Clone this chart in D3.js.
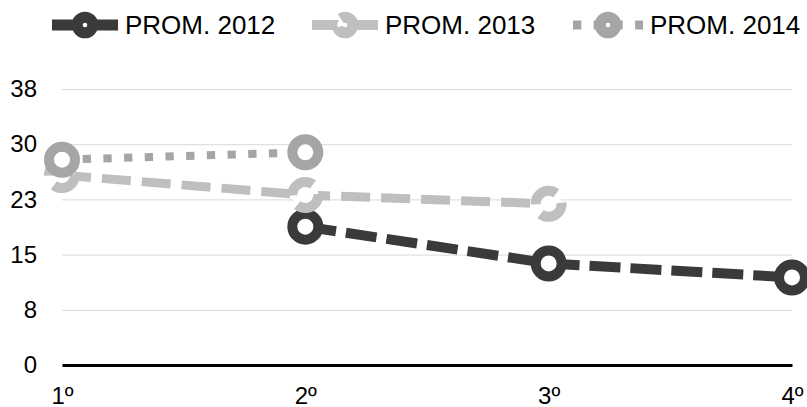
<!DOCTYPE html>
<html lang="es">
<head>
<meta charset="UTF-8">
<title>PROM. 2012-2014</title>
<script src="https://d3js.org/d3.v7.min.js"></script>
<style>
  body { margin: 0; background: #fff; }
  text { font-family: "Liberation Sans", Arial, sans-serif; fill: #000; }
</style>
</head>
<body>
<svg></svg>
<script>
const categories = ['1º', '2º', '3º', '4º'];
const seriesNames = ['PROM. 2012', 'PROM. 2013', 'PROM. 2014'];
const prom2012 = [null, 18.8, 13.8, 11.9];
const prom2013 = [25.8, 23.1, 21.9, null];
const prom2014 = [27.9, 28.9, null, null];
const yTicks = [0, 7.5, 15, 22.5, 30, 37.5];
const yTickLabels = ['0', '8', '15', '23', '30', '38'];

const width = 807, height = 407;
const margin = {top: 89, right: 15, bottom: 42, left: 62};

const svg = d3.select('svg').attr('width', width).attr('height', height);

const x = d3.scalePoint().domain(categories).range([margin.left, width - margin.right]);
const y = d3.scaleLinear().domain([0, 37.5]).range([height - margin.bottom, margin.top]);

// styles per series
const styles = [
    {color: '#3a3a3a', width: 10, dash: '31,10', markerDash: null},
    {color: '#bfbfbf', width: 9, dash: '29,11', markerDash: '29,11'},
    {color: '#a5a5a5', width: 8, dash: '8.3,12.4', markerDash: null}
];
const allSeries = [prom2012, prom2013, prom2014];

// gridlines + y labels
svg.append('g')
    .attr('transform', `translate(${margin.left},0)`)
    .call(d3.axisLeft(y)
        .tickValues(yTicks)
        .tickFormat((d, i) => yTickLabels[i])
        .tickSize(-(width - margin.left - margin.right))
        .tickPadding(25))
    .call(g => g.select('.domain').remove())
    .call(g => g.selectAll('.tick line').attr('stroke', '#d9d9d9').attr('stroke-width', 1))
    .call(g => g.selectAll('.tick text').attr('font-size', 24).style('font-family', '"Liberation Sans", Arial, sans-serif'));

// x axis
svg.append('g')
    .attr('transform', `translate(0,${y(0)})`)
    .call(d3.axisBottom(x).tickSize(0).tickPadding(22))
    .call(g => g.select('.domain').attr('stroke', '#000').attr('stroke-width', 3))
    .call(g => g.selectAll('.tick text').attr('font-size', 24).style('font-family', '"Liberation Sans", Arial, sans-serif'));

const line = d3.line()
    .defined(d => d != null)
    .x((d, i) => x(categories[i]))
    .y(d => y(d));

allSeries.forEach((vals, s) => {
    const st = styles[s];
    const g = svg.append('g');
    g.append('path')
        .datum(vals)
        .attr('d', line)
        .attr('fill', 'none')
        .attr('stroke', st.color)
        .attr('stroke-width', st.width)
        .attr('stroke-dasharray', st.dash);

    g.selectAll('circle')
        .data(vals.map((v, i) => ({v, i})).filter(d => d.v != null))
        .join('circle')
        .attr('cx', d => x(categories[d.i]))
        .attr('cy', d => y(d.v))
        .attr('r', 13)
        .attr('fill', '#fff')
        .attr('stroke', st.color)
        .attr('stroke-width', 10)
        .attr('stroke-dasharray', st.markerDash);
});

// legend
const legendX = [52, 312, 573];
const legendLen = [66, 66, 70];
const legendY = 25;
const legend = svg.append('g');
seriesNames.forEach((name, s) => {
    const st = styles[s];
    const x0 = legendX[s];
    legend.append('line')
        .attr('x1', x0).attr('x2', x0 + legendLen[s])
        .attr('y1', legendY).attr('y2', legendY)
        .attr('stroke', st.color)
        .attr('stroke-width', st.width + 1)
        .attr('stroke-dasharray', st.dash);
    legend.append('circle')
        .attr('cx', x0 + legendLen[s] / 2)
        .attr('cy', legendY)
        .attr('r', 7.8)
        .attr('fill', '#fff')
        .attr('stroke', st.color)
        .attr('stroke-width', 11)
        .attr('stroke-dasharray', st.markerDash ? '22,10' : null);
    legend.append('text')
        .attr('x', x0 + legendLen[s] + 7)
        .attr('y', legendY)
        .attr('dy', '0.35em')
        .attr('font-size', 26)
        .text(name);
});
</script>
</body>
</html>
